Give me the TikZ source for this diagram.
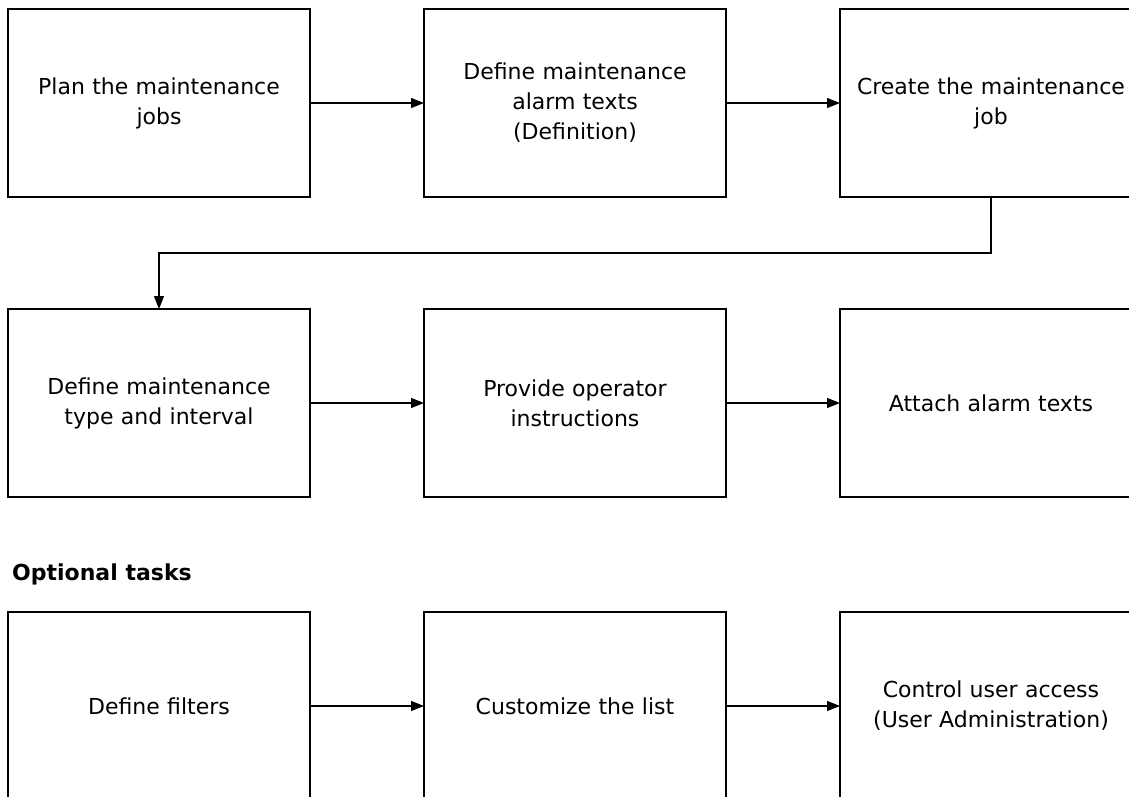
\documentclass[tikz,border=0pt]{standalone}
\usepackage{fontspec}
\setmainfont{DejaVu Sans}
\usepackage{tikz}
\usetikzlibrary{positioning,shapes}
\usetikzlibrary{arrows.meta}

\begin{document}
\begin{tikzpicture}[
x=1pt, y=1pt,
font=\fontsize{22}{30}\selectfont,
task/.style={draw, line width=1.3pt, minimum width=302pt, minimum height=188pt, text width=295pt, align=center, inner sep=0pt, outer sep=0pt},
flow/.style={-{Triangle[length=13pt,width=10pt]}, line width=1.3pt},
node distance=112pt and 114pt]
\useasboundingbox (0,0) rectangle (1129,-797);
% first row
\node[task] (plan) at (159,-103) {Plan the maintenance\\jobs};
\node[task, right=of plan] (alarmdef) {Define maintenance\\alarm texts\\(Definition)};
\node[task, right=of alarmdef] (create) {Create the maintenance\\job};
% second row
\node[task, below=of plan] (deftype) {Define maintenance\\type and interval};
\node[task, right=of deftype] (instr) {Provide operator\\instructions};
\node[task, right=of instr] (attach) {Attach alarm texts};
% optional tasks
\node[anchor=base west, inner sep=0pt, font=\fontsize{22}{30}\selectfont\bfseries] (opt) at (12,-580) {Optional tasks};
\node[task, below=115pt of deftype] (filters) {Define filters};
\node[task, right=of filters] (custom) {Customize the list};
\node[task, right=of custom] (access) {Control user access\\(User Administration)};

\draw[flow] (plan) -- (alarmdef);
\draw[flow] (alarmdef) -- (create);
\draw[flow] (create.south) -- ++(0,-56) -| (deftype.north);
\draw[flow] (deftype) -- (instr);
\draw[flow] (instr) -- (attach);
\draw[flow] (filters) -- (custom);
\draw[flow] (custom) -- (access);
\end{tikzpicture}
\end{document}
